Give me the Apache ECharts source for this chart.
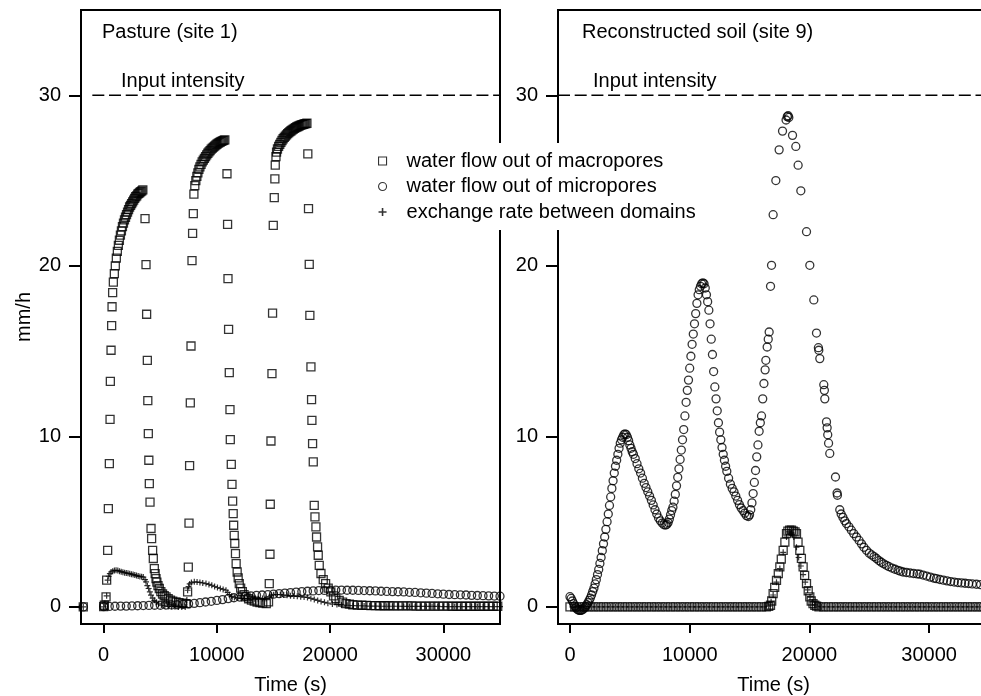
<!DOCTYPE html>
<html>
<head>
<meta charset="utf-8">
<title>Water flow out of macropores and micropores</title>
<script src="https://cdn.jsdelivr.net/npm/echarts@6/dist/echarts.min.js"></script>
<style>
  html, body { margin: 0; padding: 0; background: #fff; overflow: hidden; }
  #chart { width: 981px; height: 696px; }
</style>
</head>
<body>
<div id="chart"></div>
<script>
// values: [time (s), flux (mm/h)]
const seriesNames = ['water flow out of macropores', 'water flow out of micropores', 'exchange rate between domains'];
const panelTitles = ['Pasture (site 1)', 'Reconstructed soil (site 9)'];
const inputLabel = 'Input intensity';
const inputIntensity = 30;
const timeTicks = [0, 10000, 20000, 30000];
const fluxTicks = [0, 10, 20, 30];

// site 1 - pasture
const macroPasture = [[-1800,0],[0,0.02],[62,0.1],[212,0.59],[265,1.57],[353,3.32],[415,5.77],[503,8.4],[565,11.0],[591,13.23],[653,15.05],[706,16.5],[741,17.6],[794,18.43],[856,19.05],[944,19.54],[1030,20.0],[1120,20.45],[1210,20.85],[1300,21.2],[1390,21.5],[1480,21.8],[1570,22.05],[1660,22.3],[1750,22.5],[1840,22.7],[1930,22.85],[2020,23.0],[2110,23.15],[2200,23.3],[2290,23.45],[2380,23.55],[2470,23.65],[2560,23.75],[2650,23.85],[2740,23.95],[2830,24.05],[2920,24.1],[3010,24.2],[3100,24.25],[3190,24.3],[3280,24.35],[3370,24.4],[3460,24.45],
  [3654,22.77],[3742,20.07],[3795,17.16],[3857,14.46],[3900,12.1],[3945,10.16],[3990,8.6],[4033,7.23],[4095,6.15],[4183,4.6],[4236,4.0],[4325,3.32],[4386,2.84],[4475,2.25],[4550,1.95],[4625,1.66],[4700,1.45],[4800,1.25],[4916,1.08],[5050,0.9],[5200,0.76],[5350,0.66],[5507,0.59],[5700,0.48],[5900,0.4],[6100,0.34],[6390,0.29],[6650,0.25],[6950,0.22],[7273,0.2],
  [7414,0.88],[7476,2.34],[7537,4.92],[7590,8.29],[7652,11.96],[7714,15.3],[7802,20.3],[7855,21.9],[7917,23.06],[7970,24.2],[8050,24.7],[8140,25.0],[8230,25.25],[8320,25.45],[8410,25.65],[8500,25.8],[8600,25.95],[8700,26.1],[8800,26.2],[8900,26.3],[9000,26.4],[9100,26.5],[9200,26.6],[9300,26.68],[9400,26.76],[9500,26.84],[9600,26.9],[9700,26.96],[9800,27.02],[9900,27.08],[10000,27.13],[10100,27.18],[10200,27.22],[10300,27.26],[10400,27.3],[10500,27.33],[10600,27.36],[10700,27.39],
  [10891,25.4],[10944,22.43],[10980,19.25],[11033,16.28],[11094,13.74],[11156,11.57],[11183,9.81],[11271,8.36],[11333,7.19],[11390,6.2],[11440,5.47],[11480,4.79],[11530,4.2],[11580,3.72],[11640,3.13],[11700,2.54],[11790,2.05],[11880,1.7],[11977,1.37],[12100,1.1],[12250,0.9],[12400,0.72],[12568,0.59],[12800,0.48],[13050,0.4],[13300,0.34],[13550,0.29],[13800,0.25],[14050,0.22],[14360,0.2],
  [14560,0.3],[14625,1.37],[14687,3.09],[14713,6.02],[14775,9.73],[14863,13.68],[14916,17.23],[14978,22.37],[15066,24.0],[15120,25.1],[15154,25.9],[15216,26.4],[15269,26.67],[15350,26.85],[15450,27.0],[15550,27.12],[15650,27.24],[15750,27.35],[15850,27.45],[15950,27.53],[16050,27.61],[16150,27.68],[16250,27.75],[16350,27.81],[16450,27.87],[16550,27.92],[16650,27.97],[16750,28.02],[16850,28.06],[16950,28.1],[17050,28.14],[17150,28.17],[17250,28.2],[17350,28.23],[17450,28.26],[17550,28.28],[17650,28.3],[17750,28.32],[17850,28.34],[17950,28.36],
  [18030,26.57],[18090,23.35],[18155,20.09],[18210,17.1],[18305,14.07],[18360,12.16],[18390,10.94],[18450,9.58],[18510,8.5],[18596,5.96],[18660,5.28],[18745,4.69],[18800,4.1],[18890,3.52],[18950,3.03],[19038,2.44],[19190,1.96],[19390,1.6],[19600,1.37],[19830,1.1],[20065,0.88],[20300,0.65],[20500,0.49],[20800,0.38],[21100,0.28],[21400,0.2],[21700,0.16],[22000,0.13],[22400,0.11],[22800,0.1],[23200,0.09],[23600,0.08],[24000,0.08],[24400,0.07],[24800,0.07],[25200,0.07],[25600,0.06],[26000,0.06],[26400,0.06],[26800,0.06],[27200,0.06],[27600,0.05],[28000,0.05],[28400,0.05],[28800,0.05],[29200,0.05],[29600,0.05],[30000,0.05],[30400,0.05],[30800,0.04],[31200,0.04],[31600,0.04],[32000,0.04],[32400,0.04],[32800,0.04],[33200,0.04],[33600,0.04],[34000,0.04],[34400,0.04],[34800,0.04]];

const microPasture = [[-1800,0],[0,0.02],[500,0.03],[1000,0.04],[1500,0.05],[2000,0.05],[2500,0.06],[3000,0.07],[3500,0.08],[4000,0.09],[4500,0.1],[5000,0.1],[5500,0.11],[6000,0.12],[6500,0.13],[7000,0.15],[7500,0.18],[8000,0.21],[8500,0.25],[9000,0.29],[9500,0.33],[10000,0.38],[10500,0.43],[11000,0.49],[11500,0.54],[12000,0.58],[12500,0.62],[13000,0.65],[13500,0.68],[14000,0.7],[14500,0.72],[15000,0.75],[15500,0.78],[16000,0.81],[16500,0.84],[17000,0.87],[17500,0.9],[18000,0.92],[18500,0.94],[19000,0.96],[19500,0.97],[20000,0.98],[20500,0.99],[21000,0.99],[21500,0.98],[22000,0.98],[22500,0.97],[23000,0.96],[23500,0.95],[24000,0.94],[24500,0.92],[25000,0.91],[25500,0.9],[26000,0.89],[26500,0.88],[27000,0.86],[27500,0.85],[28000,0.83],[28500,0.81],[29000,0.79],[29500,0.77],[30000,0.75],[30500,0.73],[31000,0.72],[31500,0.71],[32000,0.7],[32500,0.68],[33000,0.67],[33500,0.66],[34000,0.65],[34500,0.64],[35000,0.63]];

const exchangePasture = [[-1800,0],[0,0],[100,0.2],[265,0.65],[353,1.57],[450,1.8],[550,1.95],[653,2.05],[800,2.1],[950,2.14],[1094,2.15],[1250,2.13],[1400,2.1],[1550,2.07],[1700,2.04],[1850,2.01],[2000,1.99],[2150,1.97],[2300,1.95],[2450,1.92],[2600,1.9],[2750,1.87],[2900,1.84],[3050,1.81],[3200,1.79],[3350,1.77],[3500,1.75],[3650,1.6],[3742,1.47],[3860,1.25],[3972,1.08],[4080,0.88],[4183,0.69],[4330,0.52],[4475,0.39],[4650,0.27],[4850,0.18],[5100,0.11],[5400,0.06],[5700,0.03],[6000,0.02],[6300,0.01],[6600,0],[6900,0],[7200,0],
  [7350,0.4],[7414,0.98],[7500,1.2],[7600,1.35],[7750,1.43],[8005,1.47],[8250,1.46],[8500,1.44],[8750,1.41],[9038,1.37],[9300,1.32],[9550,1.27],[9800,1.2],[10050,1.14],[10300,1.08],[10550,1.03],[10803,0.98],[10950,0.85],[11100,0.72],[11300,0.62],[11550,0.56],[11850,0.52],[12150,0.5],[12450,0.49],[12750,0.48],[13050,0.48],[13350,0.48],[13650,0.48],[14033,0.49],[14350,0.5],
  [14650,0.6],[14800,0.68],[15000,0.72],[15300,0.73],[15600,0.72],[15900,0.7],[16200,0.68],[16500,0.66],[16800,0.64],[17100,0.62],[17400,0.6],[17700,0.58],[18000,0.56],[18300,0.5],[18600,0.44],[18900,0.38],[19200,0.32],[19500,0.27],[19800,0.22],[20200,0.17],[20600,0.14],[21000,0.12],[21500,0.1],[22000,0.08],[22500,0.07],[23000,0.06],[23500,0.05],[24000,0.05],[24500,0.04],[25000,0.04],[25500,0.04],[26000,0.04],[26500,0.03],[27000,0.03],[27500,0.03],[28000,0.03],[28500,0.03],[29000,0.03],[29500,0.03],[30000,0.02],[30500,0.02],[31000,0.02],[31500,0.02],[32000,0.02],[32500,0.02],[33000,0.02],[33500,0.02],[34000,0.02],[34500,0.02],[35000,0.02]];

// site 9 - reconstructed soil
const macroSoil = [[0,0],[400,0],[800,0],[1200,0],[1600,0],[2000,0],[2400,0],[2800,0],[3200,0],[3600,0],[4000,0],[4400,0],[4800,0],[5200,0],[5600,0],[6000,0],[6400,0],[6800,0],[7200,0],[7600,0],[8000,0],[8400,0],[8800,0],[9200,0],[9600,0],[10000,0],[10400,0],[10800,0],[11200,0],[11600,0],[12000,0],[12400,0],[12800,0],[13200,0],[13600,0],[14000,0],[14400,0],[14800,0],[15200,0],[15600,0],[16000,0],[16400,0],
  [16600,0.03],[16750,0.1],[16850,0.35],[16970,0.78],[17100,1.15],[17250,1.56],[17400,1.95],[17530,2.35],[17650,2.8],[17808,3.32],[17950,3.8],[18086,4.3],[18200,4.45],[18350,4.5],[18503,4.5],[18650,4.45],[18800,4.4],[18920,4.3],[19050,3.8],[19198,3.32],[19330,2.85],[19475,2.35],[19600,1.85],[19757,1.37],[19900,0.95],[20033,0.59],[20150,0.35],[20300,0.2],[20450,0.1],[20600,0.05],
  [20800,0],[21200,0],[21600,0],[22000,0],[22400,0],[22800,0],[23200,0],[23600,0],[24000,0],[24400,0],[24800,0],[25200,0],[25600,0],[26000,0],[26400,0],[26800,0],[27200,0],[27600,0],[28000,0],[28400,0],[28800,0],[29200,0],[29600,0],[30000,0],[30400,0],[30800,0],[31200,0],[31600,0],[32000,0],[32400,0],[32800,0],[33200,0],[33600,0],[34000,0],[34400,0],[34800,0]];

const microSoil = [[0,0.6],[100,0.5],[200,0.35],[300,0.2],[400,0.05],[500,-0.05],[600,-0.13],[700,-0.18],[800,-0.2],[900,-0.2],[1000,-0.18],[1100,-0.13],[1200,-0.06],[1300,0.03],[1400,0.13],[1500,0.25],[1600,0.38],[1700,0.52],[1800,0.7],[1900,0.9],[2000,1.1],[2100,1.35],[2200,1.6],[2300,1.9],[2400,2.2],[2500,2.55],[2600,2.9],[2700,3.3],[2800,3.7],[2900,4.1],[3000,4.55],[3100,5.0],[3200,5.45],[3300,5.95],[3400,6.45],[3500,6.95],[3600,7.4],[3700,7.85],[3800,8.25],[3900,8.6],[4000,8.95],[4100,9.3],[4200,9.6],[4300,9.8],[4400,9.95],[4500,10.1],[4600,10.15],[4700,10.1],[4800,9.95],[4900,9.75],[5000,9.5],[5100,9.3],[5200,9.1],[5300,8.95],[5450,8.7],[5600,8.4],[5750,8.1],[5900,7.85],[6050,7.55],[6200,7.25],[6350,7.0],[6500,6.75],[6650,6.5],[6800,6.25],[6950,5.98],[7100,5.7],[7250,5.45],[7400,5.22],[7550,5.05],[7700,4.92],[7850,4.82],[8000,4.8],[8100,4.85],[8200,4.95],[8300,5.15],[8400,5.4],[8500,5.65],[8600,5.85],[8700,6.2],[8800,6.6],[8900,7.1],[9000,7.6],[9100,8.1],[9200,8.65],[9300,9.2],[9400,9.8],[9500,10.4],[9600,11.2],[9700,12.0],[9800,12.7],[9900,13.3],[10000,14.0],[10100,14.7],[10200,15.4],[10300,16.0],[10400,16.6],[10500,17.2],[10600,17.8],[10700,18.3],[10800,18.6],[10900,18.8],[11000,18.95],[11100,19.0],[11200,18.95],[11300,18.7],[11400,18.3],[11500,17.9],[11600,17.4],[11700,16.6],[11800,15.7],[11900,14.8],[12000,13.8],[12100,12.9],[12200,12.2],[12300,11.5],[12400,10.8],[12500,10.25],[12600,9.8],[12700,9.35],[12800,8.95],[12900,8.6],[13000,8.25],[13100,7.95],[13250,7.55],[13400,7.2],[13550,6.95],[13700,6.75],[13850,6.5],[14000,6.25],[14150,6.0],[14300,5.8],[14450,5.65],[14600,5.5],[14750,5.35],[14900,5.3],[15000,5.4],[15100,5.7],[15200,6.1],[15300,6.65],[15400,7.3],[15500,8.0],[15600,8.8],[15700,9.5],[15800,10.3],[15900,10.8],[16000,11.2],[16100,12.2],[16200,13.1],[16300,13.9],[16360,14.46],[16470,15.24],[16560,15.7],[16637,16.12],[16752,18.8],[16836,20.03],[16970,23.0],[17195,25.0],[17470,26.8],[17754,27.9],[18050,28.55],[18150,28.75],[18222,28.8],[18280,28.7],[18589,27.65],[18864,27.0],[19057,25.9],[19283,24.4],[19757,22.0],[20033,20.03],[20367,18.0],[20590,16.06],[20750,15.2],[20784,15.05],[20868,14.56],[21200,13.03],[21250,12.7],[21285,12.2],[21427,10.85],[21480,10.5],[21530,10.1],[21600,9.6],[21700,9.0],[22177,7.62],[22310,6.68],[22340,6.55],[22535,5.7],[22650,5.45],[22800,5.25],[22950,5.05],[23090,4.89],[23300,4.7],[23500,4.5],[23700,4.3],[23930,4.1],[24150,3.9],[24350,3.7],[24550,3.5],[24765,3.32],[25000,3.15],[25200,3.05],[25400,2.95],[25600,2.84],[25800,2.72],[26000,2.62],[26200,2.53],[26435,2.44],[26650,2.36],[26900,2.28],[27150,2.21],[27400,2.15],[27600,2.1],[27820,2.05],[28100,2.02],[28400,1.99],[28700,1.96],[29000,1.94],[29215,1.92],[29500,1.87],[29800,1.81],[30100,1.75],[30400,1.69],[30610,1.66],[30900,1.61],[31200,1.57],[31500,1.53],[31800,1.49],[32100,1.46],[32400,1.43],[32700,1.41],[33000,1.39],[33300,1.37],[33600,1.35],[33950,1.33],[34300,1.31],[34700,1.3]];

const exchangeSoil = [[200,0],[600,0],[1000,0],[1400,0],[1800,0],[2200,0],[2600,0],[3000,0],[3400,0],[3800,0],[4200,0],[4600,0],[5000,0],[5400,0],[5800,0],[6200,0],[6600,0],[7000,0],[7400,0],[7800,0],[8200,0],[8600,0],[9000,0],[9400,0],[9800,0],[10200,0],[10600,0],[11000,0],[11400,0],[11800,0],[12200,0],[12600,0],[13000,0],[13400,0],[13800,0],[14200,0],[14600,0],[15000,0],[15400,0],[15800,0],[16200,0],
  [16600,0.05],[16800,0.3],[16970,0.7],[17250,1.45],[17530,2.25],[17808,3.2],[18086,4.1],[18300,4.4],[18503,4.35],[18700,4.1],[18920,3.5],[19100,2.9],[19283,2.4],[19475,1.9],[19650,1.45],[19850,1.0],[20050,0.6],[20250,0.3],[20450,0.12],[20650,0.04],
  [21000,0],[21400,0],[21800,0],[22200,0],[22600,0],[23000,0],[23400,0],[23800,0],[24200,0],[24600,0],[25000,0],[25400,0],[25800,0],[26200,0],[26600,0],[27000,0],[27400,0],[27800,0],[28200,0],[28600,0],[29000,0],[29400,0],[29800,0],[30200,0],[30600,0],[31000,0],[31400,0],[31800,0],[32200,0],[32600,0],[33000,0],[33400,0],[33800,0],[34200,0],[34600,0]];

const inputSpan = [-1000, 35000];

const chart = echarts.init(document.getElementById('chart'));
const font = 'Liberation Sans, Arial, Helvetica, sans-serif';
const txt = { fontFamily: font, fontSize: 20, color: '#000' };
const plusPath = 'path://M4,0h2v4h4v2h-4v4h-2v-4h-4v-2h4z';
const hollow = { color: 'rgba(0,0,0,0)', borderColor: '#000', borderWidth: 1.3 };

function xAxisFor(idx, min) {
  return {
    type: 'value', gridIndex: idx, min: min, max: 35000,
    name: 'Time (s)', nameLocation: 'middle', nameGap: 51, nameTextStyle: txt,
    axisLine: { show: false, onZero: false },
    axisTick: { show: true, length: 9, customValues: timeTicks, lineStyle: { color: '#000', width: 2 } },
    axisLabel: Object.assign({ margin: 21, customValues: timeTicks, formatter: v => String(v) }, txt),
    splitLine: { show: false }
  };
}

function yAxisFor(idx, withName) {
  return {
    type: 'value', gridIndex: idx, min: -1, max: 35,
    name: withName ? 'mm/h' : '', nameLocation: 'middle', nameGap: 47, nameRotate: 90, nameTextStyle: txt,
    axisLine: { show: false, onZero: false },
    axisTick: { show: true, length: 12, customValues: fluxTicks, lineStyle: { color: '#000', width: 2 } },
    axisLabel: Object.assign({ margin: 20, customValues: fluxTicks }, txt),
    splitLine: { show: false }
  };
}

function panelSeries(idx, macro, micro, exchange) {
  const base = { type: 'scatter', xAxisIndex: idx, yAxisIndex: idx, silent: true };
  return [
    Object.assign({ name: seriesNames[0], data: macro, symbol: 'rect', symbolSize: 8, itemStyle: hollow }, base),
    Object.assign({ name: seriesNames[1], data: micro, symbol: 'circle', symbolSize: 8, itemStyle: hollow }, base),
    Object.assign({ name: seriesNames[2], data: exchange, symbol: plusPath, symbolSize: 6, itemStyle: { color: '#000' } }, base),
    {
      type: 'line', name: inputLabel, xAxisIndex: idx, yAxisIndex: idx, silent: true,
      data: inputSpan.map(t => [t, inputIntensity]),
      showSymbol: false, symbol: 'none',
      lineStyle: { color: '#000', width: 1.4, type: [12, 4.7] }
    }
  ];
}

const titleStyle = Object.assign({ fontWeight: 'normal' }, txt);
const frame = { show: true, borderColor: '#000', borderWidth: 2, backgroundColor: 'rgba(0,0,0,0)', outerBoundsMode: 'none', containLabel: false };

const option = {
  animation: false,
  backgroundColor: '#fff',
  title: [
    { text: panelTitles[0], left: 102, top: 22, padding: 0, textStyle: titleStyle },
    { text: panelTitles[1], left: 582, top: 22, padding: 0, textStyle: titleStyle },
    { text: inputLabel, left: 121, top: 71, padding: 0, textStyle: titleStyle },
    { text: inputLabel, left: 593, top: 71, padding: 0, textStyle: titleStyle }
  ],
  grid: [
    Object.assign({ left: 81, top: 10, width: 419, height: 614 }, frame),
    Object.assign({ left: 558, top: 10, width: 431, height: 614 }, frame)
  ],
  xAxis: [xAxisFor(0, -2000), xAxisFor(1, -1000)],
  yAxis: [yAxisFor(0, true), yAxisFor(1, false)],
  legend: {
    data: seriesNames,
    orient: 'vertical',
    left: 368, top: 143,
    padding: [8, 6, 8, 10],
    itemWidth: 8, itemHeight: 8, itemGap: 5.5,
    backgroundColor: '#fff',
    selectedMode: false,
    itemStyle: { borderWidth: 1.1 },
    textStyle: Object.assign({ lineHeight: 20, padding: [0, 0, 0, 15] }, txt)
  },
  series: [].concat(
    panelSeries(0, macroPasture, microPasture, exchangePasture),
    panelSeries(1, macroSoil, microSoil, exchangeSoil)
  )
};

chart.setOption(option);
</script>
</body>
</html>
